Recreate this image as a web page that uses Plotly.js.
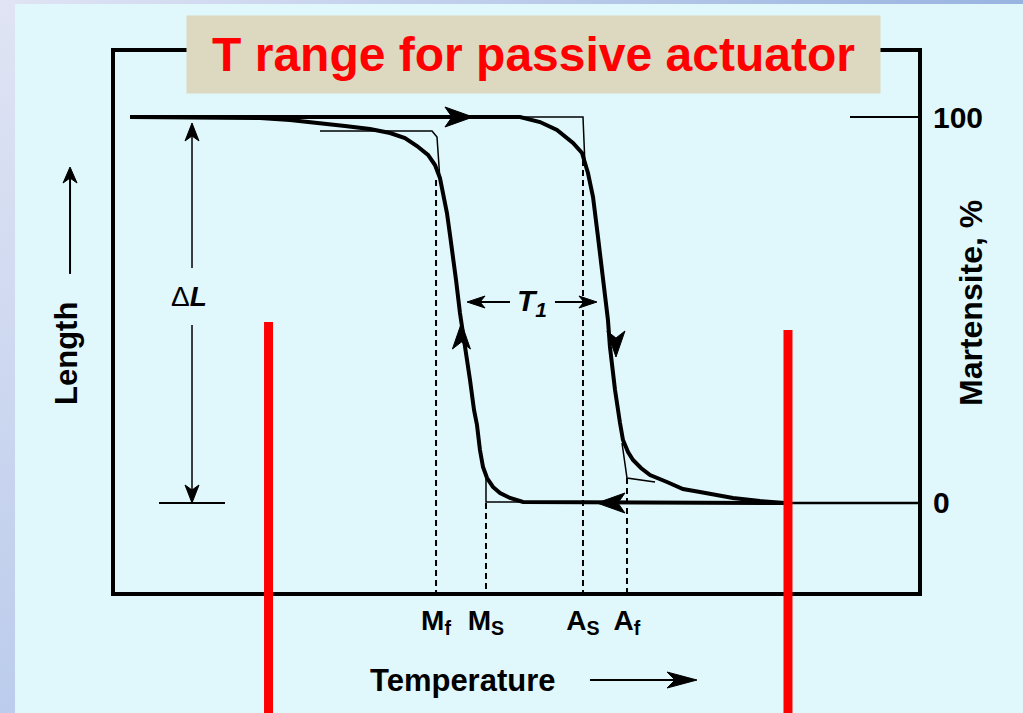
<!DOCTYPE html>
<html><head><meta charset="utf-8">
<script src="https://cdn.plot.ly/plotly-3.0.1.min.js"></script>
<style>
html,body{margin:0;padding:0;width:1023px;height:713px;overflow:hidden;background:#E0F8FC;}
#topstrip{position:absolute;left:0;top:0;width:1023px;height:4px;background:linear-gradient(to right,#E0E4F4,#98B4E0);}
#leftstrip{position:absolute;left:0;top:0;width:15px;height:713px;background:linear-gradient(to bottom,#E0E4F4,#BCCCEC);}
#chart{position:absolute;left:0;top:0;width:1023px;height:713px;}
</style></head><body>
<div id="topstrip"></div><div id="leftstrip"></div><div id="chart"></div>
<script>
// ---- data (temperature in arbitrary units, martensite in %) ----
const coolT = [83.44, 52.93, 50.81, 49.19, 47.95, 47.07, 46.33, 45.83, 45.45, 45.08, 44.71, 44.21, 43.59, 43.21, 42.96, 42.47, 42.09, 41.72, 41.34, 40.85, 40.47, 39.85, 38.98, 37.61, 36.11, 34.25, 31.76, 28.64, 25.16, 21.79, 18.06, 1.87];
const coolM = [0, 0, 0.26, 1.30, 2.59, 4.15, 6.48, 9.33, 13.73, 20.21, 24.09, 31.87, 40.41, 45.60, 49.22, 57.77, 64.77, 69.43, 75.13, 81.09, 84.20, 87.56, 90.16, 92.49, 94.56, 95.85, 96.89, 97.67, 98.45, 99.22, 99.74, 100];
const heatT = [1.87, 50.44, 52.93, 55.04, 57.04, 58.16, 58.90, 59.53, 60.15, 60.77, 61.39, 61.64, 62.27, 62.89, 63.26, 63.89, 64.51, 65.50, 66.63, 68.74, 70.73, 72.85, 76.96, 80.32, 83.44];
const heatM = [100, 100, 98.70, 96.63, 93.26, 90.67, 85.49, 79.27, 68.91, 57.77, 47.41, 40.41, 29.27, 20.73, 16.32, 13.21, 11.14, 9.07, 7.25, 5.44, 3.63, 2.85, 1.30, 0.52, 0];
const thinLTopT = [25.53, 39.48, 40.10, 40.47], thinLTopM = [96.37, 96.37, 94.82, 83.68];
const thinLBotT = [46.20, 46.20, 50.81], thinLBotM = [6.74, 0.26, 0.26];
const thinRTopT = [50.44, 58.28, 58.53], thinRTopM = [100, 100, 87.56];
const thinRBotT = [63.14, 63.76, 67.25], thinRBotM = [15.54, 6.48, 5.44];
const baseT = [83.44, 100], baseM = [0, 0];
const transNames = ['M<sub>f</sub>', 'M<sub>S</sub>', 'A<sub>S</sub>', 'A<sub>f</sub>'];
const transT = [39.98, 46.20, 58.28, 63.76];
const transTopM = [83.68, 0, 88.86, 6.48];
const rangeT = [19.12, 83.81];
const rangeTopM = [46.89, 44.82];
const yTickVals = [0, 100], yTickText = ['0', '100'];
const xRange = [0, 100], yRange = [-23.06, 116.84];

const FONT = 'Liberation Sans, Arial, sans-serif';
const traces = [];
function line(x, y, w, dash) {
  traces.push({x: x, y: y, type: 'scatter', mode: 'lines', hoverinfo: 'skip',
    line: {color: '#000', width: w, dash: dash || 'solid', shape: 'linear'}, showlegend: false});
}
line(coolT, coolM, 4);
line(heatT, heatM, 4);
line(thinLTopT, thinLTopM, 1.5);
line(thinLBotT, thinLBotM, 1.5);
line(thinRTopT, thinRTopM, 1.5);
line(thinRBotT, thinRBotM, 1.5);
line(baseT, baseM, 2.5);
transT.forEach((t, i) => line([t, t], [transTopM[i], yRange[0]], 2, '6px,4px'));

function interpT(ts, ms, m) {
  for (let i = 0; i < ts.length - 1; i++) {
    const a = ms[i], b = ms[i + 1];
    if ((m - a) * (m - b) <= 0 && a !== b) return ts[i] + (ts[i + 1] - ts[i]) * (m - a) / (b - a);
  }
  return ts[0];
}

const shapes = [];
function head(xref, yref, x, y, dir, L, W, back) {
  let pts;
  if (dir === 'r') pts = [[0,0],[-L,W],[-back,0],[-L,-W]];
  if (dir === 'l') pts = [[0,0],[L,W],[back,0],[L,-W]];
  if (dir === 'u') pts = [[0,0],[W,-L],[0,-back],[-W,-L]];
  if (dir === 'd') pts = [[0,0],[W,L],[0,back],[-W,L]];
  const path = 'M' + pts.map(p => p[0] + ',' + p[1]).join(' L') + ' Z';
  shapes.push({type: 'path', xref: xref, yref: yref, xsizemode: 'pixel', ysizemode: 'pixel',
    xanchor: x, yanchor: y, path: path, fillcolor: '#000', line: {color: '#000', width: 1}, layer: 'above'});
}
function seg(xref, yref, x0, y0, x1, y1, w, color) {
  shapes.push({type: 'line', xref: xref, yref: yref, x0: x0, y0: y0, x1: x1, y1: y1,
    line: {color: color || '#000', width: w}, layer: 'above'});
}

// flow arrows on the loop
head('x', 'y', 44.58, 100, 'r', 28, 10, 21);
head('x', 'y', 60.02, 0, 'l', 28, 10, 21);
head('x', 'y', interpT(coolT, coolM, 46.63), 46.63, 'u', 26, 9, 19);
head('x', 'y', interpT(heatT, heatM, 37.82) + 0.6, 37.82, 'd', 26, 9, 19);
// T1 arrows
seg('x', 'y', 49.19, 52.07, 44.5, 52.07, 2);
head('x', 'y', 43.84, 52.07, 'l', 18, 6, 13);
seg('x', 'y', 54.79, 52.07, 59.3, 52.07, 2);
head('x', 'y', 60.02, 52.07, 'r', 18, 6, 13);
// Delta L arrows
seg('x', 'y', 9.59, 60.88, 9.59, 95, 1.5);
head('x', 'y', 9.59, 98.45, 'u', 18, 7, 13);
seg('x', 'y', 9.59, 46.11, 9.59, 3, 1.5);
head('x', 'y', 9.59, 0, 'd', 18, 7, 13);
seg('x', 'y', 5.48, 0, 13.70, 0, 2);
// Length arrow (paper)
seg('paper', 'paper', -0.056, 0.589, -0.056, 0.77, 2);
head('paper', 'paper', -0.056, 0.787, 'u', 16, 7, 11);
// Temperature arrow (paper)
seg('paper', 'paper', 0.5915, -0.163, 0.70, -0.163, 2);
head('paper', 'paper', 0.7248, -0.163, 'r', 30, 8, 22);
// red T-range lines
rangeT.forEach((t, i) => shapes.push({type: 'line', xref: 'x', yref: 'paper', x0: t, x1: t,
  y0: (rangeTopM[i] - yRange[0]) / (yRange[1] - yRange[0]), y1: -0.25,
  line: {color: '#FF0000', width: 9}, layer: 'above'}));

function txt(xref, yref, x, y, text, size, extra) {
  return Object.assign({xref: xref, yref: yref, x: x, y: y, xanchor: 'center', yanchor: 'middle',
    text: text, showarrow: false, font: {family: FONT, size: size, color: '#000', weight: 'bold'}}, extra || {});
}
const annotations = [
  txt('paper', 'paper', 0.5212, 0.9954, 'T range for passive actuator', 48,
    {width: 693, height: 77, borderpad: 0, bgcolor: '#DDD8C0',
     font: {family: FONT, size: 48, color: '#FF0000', weight: 'bold'}}),
  txt('x', 'y', 9.22, 53.6, '\u0394<b><i>L</i></b>', 28, {font: {family: FONT, size: 28, color: '#000'}}),
  txt('x', 'y', 51.93, 52.07, '<i>T<sub>1</sub></i>', 30),
  txt('paper', 'paper', -0.0598, 0.4426, 'Length', 31, {textangle: -90}),
  txt('paper', 'paper', 1.0660, 0.5352, 'Martensite, %', 32, {textangle: -90}),
  txt('paper', 'paper', 0.4334, -0.163, 'Temperature', 31)
];

const layout = {
  width: 1023, height: 713,
  margin: {l: 115, r: 105, t: 52, b: 121, pad: 0},
  paper_bgcolor: 'rgba(0,0,0,0)', plot_bgcolor: 'rgba(0,0,0,0)',
  showlegend: false,
  xaxis: {range: xRange, showgrid: false, zeroline: false, showline: true, mirror: true,
    linewidth: 4, linecolor: '#000', tickvals: transT, ticktext: transNames, ticks: '',
    ticklabelstandoff: 0, tickfont: {family: FONT, size: 28, color: '#000', weight: 'bold'}, fixedrange: true},
  yaxis: {range: yRange, side: 'right', showgrid: false, zeroline: false, showline: true, mirror: true,
    linewidth: 4, linecolor: '#000', tickvals: yTickVals, ticktext: yTickText, ticks: 'inside',
    ticklen: 68, tickwidth: 2, tickcolor: '#000', ticklabelstandoff: 5,
    tickfont: {family: FONT, size: 30, color: '#000', weight: 'bold'}, fixedrange: true},
  shapes: shapes, annotations: annotations
};
Plotly.newPlot('chart', traces, layout, {staticPlot: true, displayModeBar: false});
</script>
</body></html>
